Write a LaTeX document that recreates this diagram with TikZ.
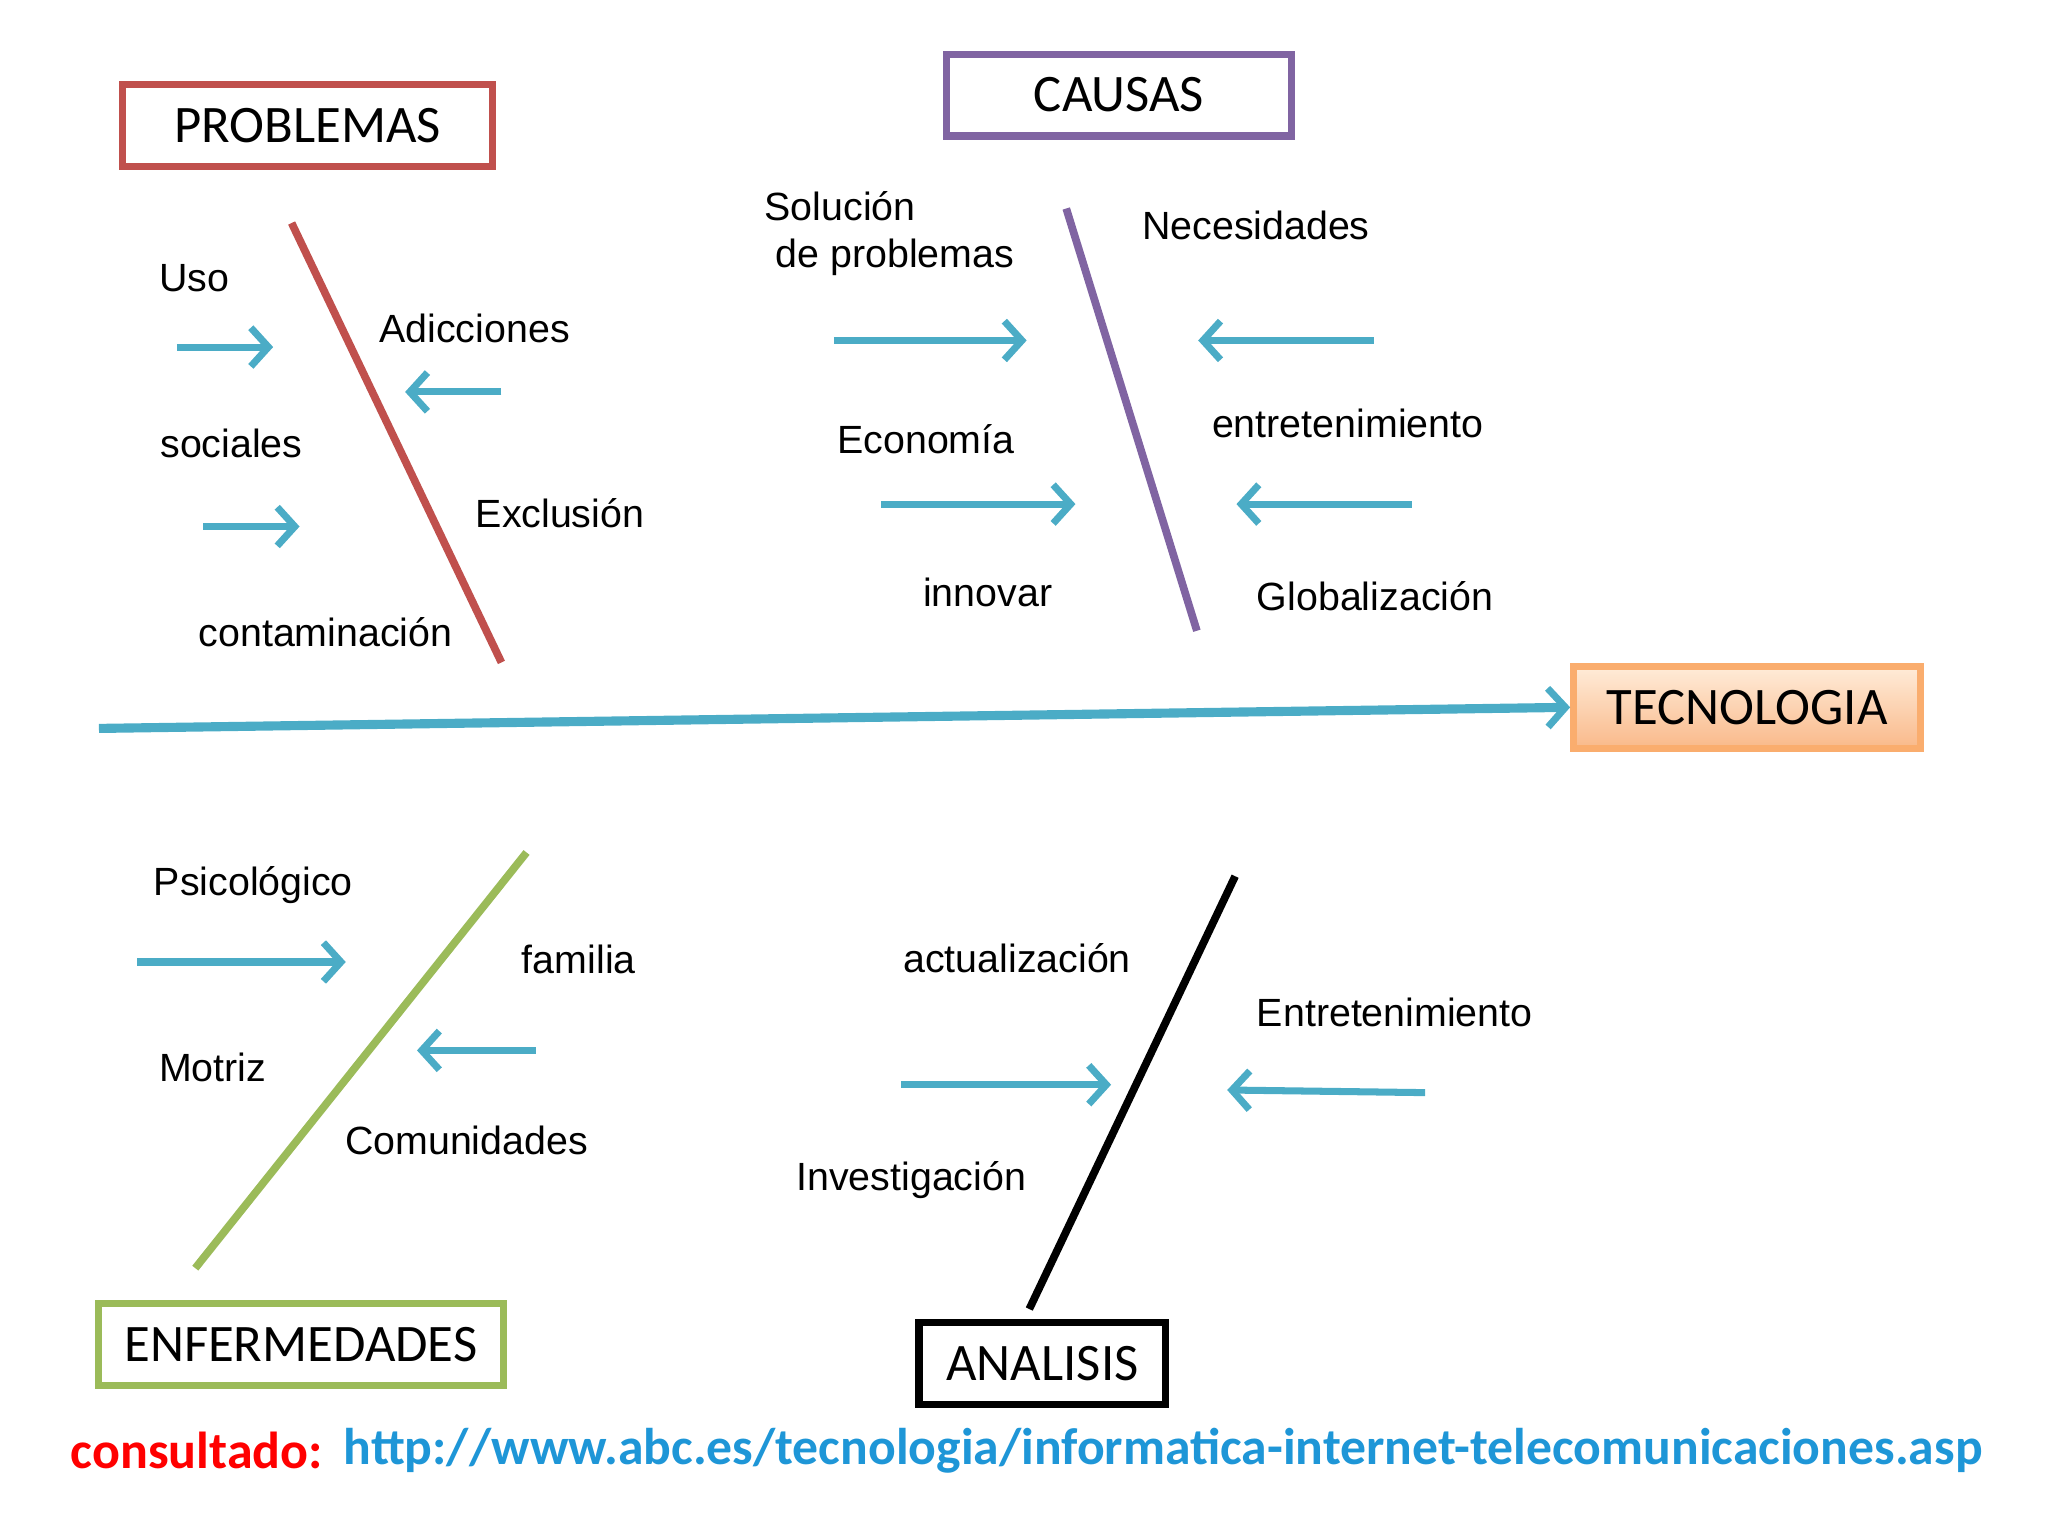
\documentclass[tikz,border=0pt]{standalone}
\usepackage{fontspec}
\setmainfont{Liberation Sans}
\newfontfamily\boxfont{Carlito}
\usetikzlibrary{arrows.meta}
\definecolor{flecha}{HTML}{4BACC6}
\definecolor{rojo}{HTML}{C0504D}
\definecolor{morado}{HTML}{8064A2}
\definecolor{verde}{HTML}{9BBB59}
\definecolor{naranja}{HTML}{F9B98A}
\tikzset{
  caja/.style={draw, line width=2pt, minimum height=0.82cm, inner sep=0pt, font=\boxfont\fontsize{15}{18}\selectfont},
  etiqueta/.style={anchor=west, inner sep=0pt, font=\fontsize{11.2}{13.5}\selectfont},
  flechita/.style={flecha, line width=2pt, -{Straight Barb[length=5pt,width=11pt,line width=2pt]}},
  espina/.style={line width=2.2pt}
}
\begin{document}
\begin{tikzpicture}[x=0.0132cm,y=-0.0132cm]
\useasboundingbox (0,0) rectangle (1552,1164);
% cajas
\node [caja, draw=rojo, minimum width=3.7cm] (problemas) at (233,95) {PROBLEMAS};
\node [caja, draw=morado, minimum width=3.45cm] (causas) at (848,72) {CAUSAS};
\node [caja, draw=naranja!80!orange, top color=orange!15, bottom color=naranja, minimum width=3.47cm] (tecnologia) at (1324,536) {TECNOLOGIA};
\node [caja, draw=verde, minimum width=4.05cm] (enfermedades) at (228,1019) {ENFERMEDADES};
\node [caja, draw=black, minimum width=2.47cm] (analisis) at (790,1033) {ANALISIS};

% espinas
\coordinate (r1) at (221,169); \coordinate (r2) at (380,502);
\coordinate (p1) at (808,158); \coordinate (p2) at (907,478);
\coordinate (g1) at (399,646); \coordinate (g2) at (148,961);
\coordinate (b1) at (936,664); \coordinate (b2) at (780,992);
\draw [espina, rojo] (r1) -- (r2);
\draw [espina, morado] (p1) -- (p2);
\draw [espina, verde] (g1) -- (g2);
\draw [espina, black] (b1) -- (b2);

% eje
\coordinate (eje) at (75,552);
\draw [flechita, line width=2.6pt] (eje) -- (tecnologia.west);

% flechas
\foreach \xa/\ya/\xb/\yb [count=\i] in {134/263/207/263, 380/297/307/297, 154/399/227/399,
  632/258/778/258, 1041/258/908/258, 668/382/815/382, 1070/382/937/382,
  104/729/262/729, 406/796/316/796, 683/822/842/822, 1080/828/930/826}
  {
  \coordinate (ini\i) at (\xa,\ya);
  \coordinate (fin\i) at (\xb,\yb);
  \draw [flechita] (ini\i) -- (fin\i);
  }

% etiquetas
\node [etiqueta] (uso) at (120,211) {Uso};
\node [etiqueta] (adicciones) at (287,249) {Adicciones};
\node [etiqueta] (sociales) at (121,336) {sociales};
\node [etiqueta] (exclusion) at (360,389) {Exclusión};
\node [etiqueta] (contaminacion) at (150,479) {contaminación};
\node [etiqueta, anchor=center, align=left] (solucion) at (674,177) {Solución\\\ de problemas};
\node [etiqueta] (necesidades) at (865,171) {Necesidades};
\node [etiqueta] (economia) at (634,333) {Economía};
\node [etiqueta] (entretenimiento) at (918,321) {entretenimiento};
\node [etiqueta] (innovar) at (699,449) {innovar};
\node [etiqueta] (globalizacion) at (952,452) {Globalización};
\node [etiqueta] (psicologico) at (116,671) {Psicológico};
\node [etiqueta] (familia) at (395,727) {familia};
\node [etiqueta] (motriz) at (120,809) {Motriz};
\node [etiqueta] (comunidades) at (261,864) {Comunidades};
\node [etiqueta] (actualizacion) at (684,726) {actualización};
\node [etiqueta] (entrete2) at (952,767) {Entretenimiento};
\node [etiqueta] (investigacion) at (603,894) {Investigación};

% fuente
\node [anchor=west, inner sep=0pt, font=\boxfont\bfseries\fontsize{14.8}{18}\selectfont, text={rgb,255:red,255;green,0;blue,0}] (consultado) at (53,1099) {consultado:};
\node [anchor=west, inner sep=0pt, font=\boxfont\bfseries\fontsize{14.7}{18}\selectfont, text={rgb,255:red,30;green,150;blue,215}] (url) at (260,1099) {http://www.abc.es/tecnologia/informatica-internet-telecomunicaciones.asp};
\end{tikzpicture}
\end{document}
